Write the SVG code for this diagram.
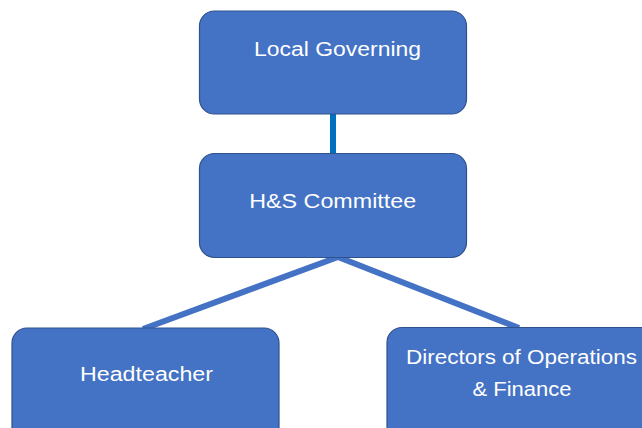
<svg xmlns="http://www.w3.org/2000/svg" width="642" height="428" viewBox="0 0 642 428">
<style>
.box{fill:#4472C4;stroke:#2F528F;stroke-width:1.2}
.t{fill:#fff;font-family:"Liberation Sans",Arial,sans-serif;font-size:20px;text-anchor:middle}
.ln{stroke:#4472C4;stroke-width:6;fill:none}
</style>
<rect width="642" height="428" fill="#fff"/>
<g id="connectors">
<line x1="333" y1="114" x2="333" y2="154" stroke="#0070C0" stroke-width="6"/>
<line class="ln" x1="338" y1="257" x2="143" y2="329"/>
<line class="ln" x1="338" y1="257" x2="519" y2="328"/>
</g>
<g id="local-governing">
<rect class="box" x="199.5" y="11" width="267" height="103" rx="15"/>
<text class="t" x="337.5" y="56" textLength="167" lengthAdjust="spacingAndGlyphs">Local Governing</text>
</g>
<g id="hs-committee">
<rect class="box" x="199.5" y="153.5" width="267" height="104" rx="15"/>
<text class="t" x="332.7" y="208" textLength="167" lengthAdjust="spacingAndGlyphs">H&amp;S Committee</text>
</g>
<g id="headteacher">
<rect class="box" x="12" y="328" width="267" height="115" rx="15"/>
<text class="t" x="146.5" y="381" textLength="133" lengthAdjust="spacingAndGlyphs">Headteacher</text>
</g>
<g id="directors">
<rect class="box" x="387" y="327.5" width="275" height="115" rx="15"/>
<text class="t" x="521.5" y="364" textLength="231" lengthAdjust="spacingAndGlyphs">Directors of Operations</text>
<text class="t" x="522" y="396" textLength="99" lengthAdjust="spacingAndGlyphs">&amp; Finance</text>
</g>
</svg>
